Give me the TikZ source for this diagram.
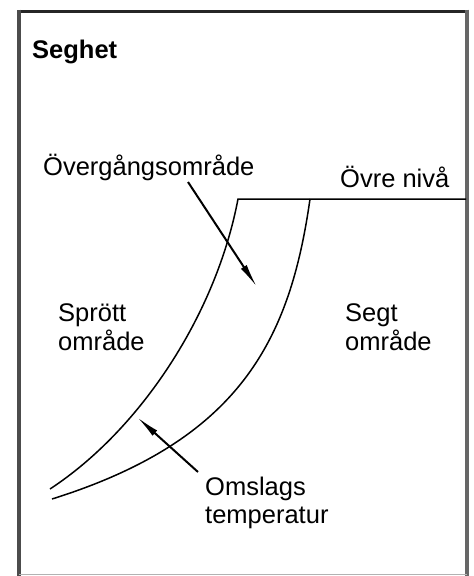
\documentclass[tikz,border=0pt]{standalone}
\usepackage{fontspec}
\setmainfont{Liberation Sans}
\usetikzlibrary{arrows.meta}
\begin{document}
\begin{tikzpicture}[x=1pt,y=-1pt,
  lbl/.style={anchor=base west,inner sep=0pt,font=\fontsize{25.5}{30}\selectfont},
  curve/.style={line width=1.5pt,black},
  pointer/.style={line width=2pt,black,-{Latex[length=24pt,width=7pt]}}]
\useasboundingbox (0,0) rectangle (474,576);
% frame
\draw[line width=3pt,black!85] (18,11) -- (467,11);
\draw[line width=3.5pt,black!70] (19,9.5) -- (19,576);
\draw[line width=3.5pt,black!60] (467,9.5) -- (467,576);
\draw[line width=1.5pt,black!30] (19,574.5) -- (467,574.5);
% texts
\node[lbl,font=\fontsize{25.5}{30}\selectfont\bfseries] (seghet) at (32,58) {Seghet};
\node[lbl] (overg) at (43,175) {Övergångsområde};
\node[lbl] (ovre) at (340,187) {Övre nivå};
\node[lbl] (sprott) at (58,321) {Sprött};
\node[lbl] (omr1) at (58,350) {område};
\node[lbl] (segt) at (345,321) {Segt};
\node[lbl] (omr2) at (345,350) {område};
\node[lbl] (omsl) at (205,495) {Omslags};
\node[lbl] (temp) at (205,523) {temperatur};
% curves
\coordinate (ltop) at (238,199);
\coordinate (rtop) at (310,199);
\coordinate (rend) at (466,199);
\coordinate (lbot) at (50,489);
\coordinate (rbot) at (52,499);
\draw[curve] (rend) -- (ltop) .. controls (216,315) and (140,430) .. (lbot);
\draw[curve] (rtop) .. controls (290,340) and (240,440) .. (rbot);
% pointers
\coordinate (a1s) at (188,182);
\coordinate (a1e) at (257,287);
\coordinate (a2s) at (198,472);
\coordinate (a2e) at (137,417);
\draw[pointer] (a1s) -- (a1e);
\draw[pointer] (a2s) -- (a2e);
\end{tikzpicture}
\end{document}
